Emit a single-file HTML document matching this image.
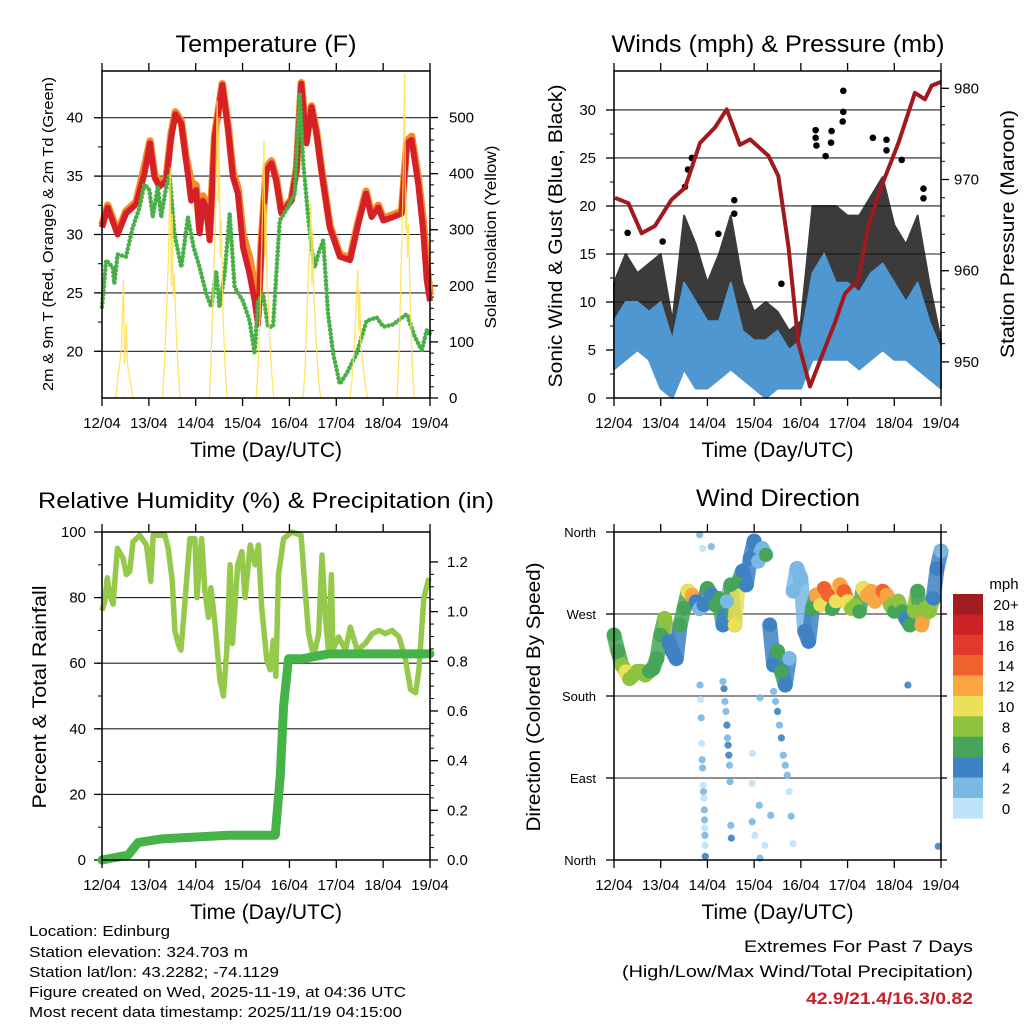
<!DOCTYPE html>
<html><head><meta charset="utf-8"><style>
html,body{margin:0;padding:0;background:#fff;}
svg{display:block;font-family:"Liberation Sans",Arial,sans-serif;}
</style></head><body>
<svg id="c" width="1024" height="1024" viewBox="0 0 1024 1024" xmlns="http://www.w3.org/2000/svg">
<rect width="1024" height="1024" fill="#fff"/>
<g id="g1"></g>
<g id="g2"></g>
<g id="g3"></g>
<g id="g4"></g>
<g font-size="15" fill="#000" lengthAdjust="spacingAndGlyphs">
<text x="29" y="936" textLength="141" lengthAdjust="spacingAndGlyphs">Location: Edinburg</text>
<text x="29" y="957" textLength="219" lengthAdjust="spacingAndGlyphs">Station elevation: 324.703 m</text>
<text x="29" y="977" textLength="250" lengthAdjust="spacingAndGlyphs">Station lat/lon: 43.2282; -74.1129</text>
<text x="29" y="997" textLength="377" lengthAdjust="spacingAndGlyphs">Figure created on Wed, 2025-11-19, at 04:36 UTC</text>
<text x="29" y="1017" textLength="373" lengthAdjust="spacingAndGlyphs">Most recent data timestamp: 2025/11/19 04:15:00</text>
</g>
<g text-anchor="end">
<text x="973" y="952" font-size="17" textLength="229" lengthAdjust="spacingAndGlyphs">Extremes For Past 7 Days</text>
<text x="973" y="977" font-size="17" textLength="351" lengthAdjust="spacingAndGlyphs">(High/Low/Max Wind/Total Precipitation)</text>
<text x="973" y="1004" font-size="17" font-weight="bold" fill="#c8202a" textLength="167" lengthAdjust="spacingAndGlyphs">42.9/21.4/16.3/0.82</text>
</g>
</svg>
<script>
// ---------- DATA ----------
const dayLabels=["12/04","13/04","14/04","15/04","16/04","17/04","18/04","19/04"];
const tempHours=[0,2.9,8,12.3,17.5,21.7,24.6,26.9,29.4,32.9,35.4,37.6,40.6,43.1,45.7,48.2,50,51.7,53.4,55.1,57.7,61.6,64.5,67.1,69.6,72.2,75.6,78.2,79.9,81.6,84.2,86.8,89.3,91.9,97,99.6,102.1,104.7,107.3,109.9,112.4,116.7,121.8,127,131.2,135.2,138.1,141.5,144.1,149.2,153.5,156.1,158.6,162,164.6,166.3,168];
const temp2m=[30.6,32.3,30,31.8,32.6,35.2,37.8,34.9,34.1,34.6,38.3,40.3,39.5,36.3,32.9,33.8,30.1,32.9,32.3,29.5,38.3,42.8,39.2,34.9,33.5,28.9,26.6,24.3,22.3,28.9,35.5,36.1,34.6,31.8,32.9,35.5,42.9,37.8,40.9,38.6,35.5,30.6,28.1,27.8,30.9,33.5,31.5,32.3,31.2,31.5,31.8,37.8,38.1,34.3,30.1,26.1,24.3];
const temp9m=[30.8,32.5,30.2,32,32.8,35.8,38,35.2,34.4,34.8,38.6,40.5,39.7,36.6,34.5,34.2,30.5,33.3,32.8,30,38.5,42.9,39.4,35.3,34,30,28,25.5,23,29.3,35.8,36.3,34.8,32,33,35.7,43,38,41,38.8,35.7,30.8,28.3,28,31.1,33.7,31.7,32.5,31.4,31.7,32,38,38.4,34.8,31,27.5,24.8];
const dewHours=[0,2.1,5.5,6.3,8,12.3,15.7,19.2,21.7,24.3,26,28.6,30.3,32.9,34.6,37.1,40.6,44,46.9,50,53.4,56,58.5,60.2,62.8,65.4,67.9,72.2,75.6,78.2,79.9,82.5,85,87.6,89.3,91,94.4,98.7,101.3,103,105.6,107.3,109,110.7,113.3,115.8,118.4,121.8,125.3,130.4,135.5,140.7,144.1,149.2,156.1,160.3,163.8,166.3,168];
const dewpoint=[23.8,27.8,27.2,25.8,28.3,28.1,30.6,32.3,34.3,33.8,31.5,34.1,31.5,34.1,35.2,30.1,27.2,31.5,28.9,27.2,24.9,23.8,26.9,23.8,26.6,31.8,25.5,24.3,22.6,19.8,24.3,24.9,22.1,22.1,26.6,31.2,32.1,33.5,42.1,36.3,31.5,28.9,27.2,28.3,29.5,23.2,19.8,17.2,18.1,19.8,22.6,22.9,22.1,22.3,23.2,21.2,20.1,21.8,21.5];
const solarHourOfDay=[7,8,9,10,11,11.5,12,12.5,13,14,15,16];
const solarDays=[
 [0,30,60,90,210,60,90,133,60,40,20,0],
 [0,60,150,250,411,200,328,180,222,120,50,0],
 [0,80,200,300,530,350,500,250,317,150,60,0],
 [0,60,150,300,459,250,346,200,180,100,40,0],
 [0,50,150,250,346,200,299,180,150,80,30,0],
 [0,30,80,150,228,120,192,100,80,50,20,0],
 [0,60,200,350,578,300,346,250,311,150,50,0]];
const windHours=[0,6,12,18,24,30,36,42,48,54,60,66,72,78,84,90,96,102,108,114,120,126,132,138,144,150,156,162,168];
const windLo=[3,4,5,4,1,0,3,1,1,2,3,2,1,0,1,1,1,4,4,4,4,3,4,5,4,4,3,2,1];
const windHi=[8,10,10,9,10,6,12,10,8,8,12,7,6,6,7,5,6,13,15,12,12,11,13,14,12,10,12,8,5];
const gustHi=[12,15,13,14,15,8,19,16,12,15,19,12,9,10,9,7,8,20,20,20,19,19,21,23,18,16,19,12,6];
const gustOutHours=[7,25,36.5,40,38,53.6,61.8,61.8,86,103.6,103.6,104,111.8,111.5,108.7,117.8,117.8,117.5,133,140,140,147.8,159,159];
const gustOut=[17.2,16.3,22,25,23.8,17.1,20.6,19.2,11.9,27.9,27.1,26.3,27.8,26.6,25.2,32,29.8,28.8,27.1,26.9,25.8,24.8,21.8,20.8];
const presHours=[0.5,7.4,14.2,21,29.6,36.5,44.2,51.9,57.9,64.7,69.9,79.3,84.4,89.6,94.7,100.7,106.7,113.5,118.7,125.5,130.7,137.5,146.1,154.6,159.8,163.2,168];
const pressure=[968,967.4,964.1,964.9,967.8,969.1,974,975.7,977.7,973.8,974.4,972.6,970.4,962.7,952.1,947.3,950.6,954.3,957.5,959,964.9,969.3,974,979.5,978.8,980.3,980.7];
const rhHours=[0,1.4,2.7,3.9,5.7,7.9,10.8,12.5,14.2,15.9,19.3,22.8,25,26.2,32.2,33.9,36,37.3,39,40.4,41.6,45,47.6,48.6,51,52.7,54.5,55.8,57.9,60.4,62.2,63.9,65.6,66.8,69.5,71.6,73.3,75.9,78.4,80.1,81.8,84.4,86.1,87.8,89,90.4,93,97.3,102,104.1,105.8,108.4,111,112.7,114.4,116.1,117.5,118.2,121.2,124.7,127.2,130.7,134.9,138.4,141.8,145.2,148.6,152.1,155.5,158,160.6,162.3,164.9,167.5];
const rh=[76,79,86,81,78,95,92,87,88,97,99,96,85,99,99,95,85,70,66,64,72,98,98,80,98,82,74,83,72,55,50,64,90,66,90,94,80,96,90,96,77,61,58,67,56,87,98,100,99,82,69,62,69,93,74,63,87,64,68,64,71,64,66,69,70,69,70,68,61,52,51,58,80,86];
const precipHours=[0,13.4,18.5,30.5,64.7,88.7,91.3,93,95.5,102.4,116.1,168];
const precip=[0,0.02,0.07,0.085,0.1,0.1,0.34,0.62,0.81,0.81,0.83,0.83];
const dirHours=[0,2,4,6,8,10,12,14,16,18,20,22,24,26,28,30,32,34,36,38,40,42,44,46,48,50,52,54,56,58,60,62,64,66,68,70,72,74,76,78,80,82,84,86,88,90,92,94,96,98,100,102,104,106,108,110,112,114,116,118,120,122,124,126,128,130,132,134,136,138,140,142,144,146,148,150,152,154,156,158,160,162,164,166,168];
const windDir=[247,229,214,207,199,203,207,207,203,207,210,221,247,265,240,229,221,258,276,295,291,284,276,280,298,291,280,287,258,284,302,258,306,317,302,331,350,328,342,335,258,214,229,207,192,221,295,320,309,251,240,276,291,280,298,291,276,284,302,295,284,276,280,273,298,291,295,284,291,295,291,280,273,284,273,265,258,273,295,258,276,273,287,320,339];
const dirSpeed=[6,7,9,10,9,8,9,8,8,7,7,6,6,8,4,4,4,6,7,10,13,4,2,4,6,4,6,6,4,2,6,10,7,4,4,4,4,2,2,6,4,4,6,6,4,2,2,2,2,4,4,7,12,10,14,15,7,10,12,14,10,8,8,7,10,12,12,12,12,15,12,8,7,8,6,4,6,8,7,12,8,8,4,4,2];
const outHours=[44.2,44.5,44.8,45,45.3,45.5,45.8,46,46.2,46.4,46.5,46.6,46.7,46.8,46.9,44,45.5,50,56,56.5,57,57.5,58,58.3,58.6,59,59.3,59.6,60,60.3,75,71,71,74.6,71,72.4,77.5,75,80.5,82,83,84,85,86,87,88,89,90,91,92,166.6,151];
const outDir=[192,176,156,128,110,101,82,75,68,55,44,35,27,16,4,357,342,344,196,188,174,163,148,134,126,115,104,86,38,24,178,117,84,60,42,27,16,2,49,185,174,163,148,134,115,104,93,75,48,18,15,192];
const outSpeed=[2,0,2,0,2,2,0,2,0,2,2,0,2,0,4,2,0,2,2,4,2,2,4,2,4,4,2,2,2,4,2,0,0,2,2,0,0,2,2,2,2,4,2,4,2,2,2,0,2,0,4,4];
const speedColors=["#bde4f8","#79b7e5","#3e82c3","#47a55a","#8dc33f","#ebe058","#f9a543","#f0622e","#e03a2b","#cb2127","#a01c20"];
const speedLabels=["0","2","4","6","8","10","12","14","16","18","20+"];

// ---------- HELPERS ----------
const NS="http://www.w3.org/2000/svg";
function el(parent,tag,attrs,name){
  const e=document.createElementNS(NS,tag);
  for(const k in attrs) e.setAttribute(k,attrs[k]);
  
  
  parent.appendChild(e);return e;
}
function txt(parent,x,y,s,size,anchor,name,extra){
  const t=el(parent,'text',Object.assign({x:x,y:y,'font-size':size,'text-anchor':anchor||'middle'},extra||{}),name);
  t.textContent=s;return t;
}
function mkScale(a0,a1,p0,p1){return v=>p0+(v-a0)/(a1-a0)*(p1-p0);}
function poly(g,xs,ys,fx,fy,attrs,name){
  let d='';for(let i=0;i<xs.length;i++){d+=(i?'L':'M')+fx(xs[i]).toFixed(1)+','+fy(ys[i]).toFixed(1);}
  return el(g,'path',Object.assign({d:d,fill:'none'},attrs),name);
}
function band(g,xs,lo,hi,fx,fy,fill,name,op){
  let d='';
  for(let i=0;i<xs.length;i++) d+=(i?'L':'M')+fx(xs[i]).toFixed(1)+','+fy(hi[i]).toFixed(1);
  for(let i=xs.length-1;i>=0;i--) d+='L'+fx(xs[i]).toFixed(1)+','+fy(lo[i]).toFixed(1);
  return el(g,'path',{d:d+'Z',fill:fill,stroke:fill,'stroke-width':2,'stroke-linejoin':'round',opacity:op||1},name);
}
function xAxis(g,p,fx){
  for(let i=0;i<dayLabels.length;i++){
    const x=fx(i*24);
    el(g,'line',{x1:x,x2:x,y1:p.y1,y2:p.y1+8,stroke:'#000','stroke-width':1.3},'x-tick');
    el(g,'line',{x1:x,x2:x,y1:p.y0,y2:p.y0-8,stroke:'#000','stroke-width':1.3},'x-tick-top');
    txt(g,x,p.y1+30,dayLabels[i],15,'middle','x-tick-label');
  }
  txt(g,(p.x0+p.x1)/2,p.y1+59,'Time (Day/UTC)',21,'middle','x-axis-title');
}
function yTicks(g,p,fy,lo,hi,step,minor,side,labels,grid,dx){
  const x=side==='l'?p.x0:p.x1, s=side==='l'?-1:1;
  for(let v=lo;v<=hi+1e-9;v+=minor){
    const y=fy(v); if(y<p.y0-0.5||y>p.y1+0.5) continue;
    el(g,'line',{x1:x,x2:x+s*4,y1:y,y2:y,stroke:'#000','stroke-width':1},'y-minor-tick');
  }
  for(let i=0;i<labels.length;i++){
    const v=lo+i*step,y=fy(v);
    if(grid && y>p.y0+1 && y<p.y1-1) el(g,'line',{x1:p.x0,x2:p.x1,y1:y,y2:y,stroke:'#222','stroke-width':1.1},'grid-line');
    el(g,'line',{x1:x,x2:x+s*8,y1:y,y2:y,stroke:'#000','stroke-width':1.3},'y-tick');
    txt(g,x+s*dx,y+5,labels[i],15,side==='l'?'end':'start','y-tick-label');
  }
}
function frame(g,p){el(g,'rect',{x:p.x0,y:p.y0,width:p.x1-p.x0,height:p.y1-p.y0,fill:'none',stroke:'#000','stroke-width':1.5},'plot-frame');}
function vlabel(g,x,y,s,size,len,name){
  const t=el(g,'text',{x:0,y:0,'font-size':size,'text-anchor':'middle',transform:'translate('+x+','+y+') rotate(-90)',textLength:len,lengthAdjust:'spacingAndGlyphs'},name);
  t.textContent=s;
}

// ---------- PANEL 1 ----------
(function(){
  const g=document.getElementById('g1');
  const p={x0:102,x1:430,y0:71,y1:398};
  const fx=mkScale(0,168,p.x0,p.x1), fy=mkScale(16,44,p.y1,p.y0), fs=mkScale(0,583,p.y1,p.y0);
  yTicks(g,p,fy,20,40,5,2.5,'l',['20','25','30','35','40'],true,19);
  yTicks(g,p,fs,0,500,100,20,'r',['0','100','200','300','400','500'],false,19);
  poly(g,tempHours,temp9m,fx,fy,{stroke:'#f58a2a','stroke-width':7.5,'stroke-linejoin':'round'},'temp-9m-line');
  poly(g,tempHours,temp2m,fx,fy,{stroke:'#d52027','stroke-width':6,'stroke-linejoin':'round'},'temp-2m-line');
  poly(g,dewHours,dewpoint,fx,fy,{stroke:'#49b048','stroke-width':4.5,'stroke-dasharray':'0.1 4','stroke-linecap':'round'},'dewpoint-line');
  const sh=[],sv=[];
  for(let d=0;d<solarDays.length;d++)for(let k=0;k<solarHourOfDay.length;k++){sh.push(d*24+solarHourOfDay[k]);sv.push(solarDays[d][k]);}
  poly(g,sh,sv,fx,fs,{stroke:'#ffe04a','stroke-width':1.3,opacity:0.85},'solar-line');
  frame(g,p);xAxis(g,p,fx);
  txt(g,266,52,'Temperature (F)',24,'middle','chart-title',{textLength:181,lengthAdjust:'spacingAndGlyphs'});
  vlabel(g,53,234,'2m & 9m T (Red, Orange) & 2m Td (Green)',15,314,'y-axis-title-left');
  vlabel(g,496,237,'Solar Insolation (Yellow)',16,183,'y-axis-title-right');
})();

// ---------- PANEL 2 ----------
(function(){
  const g=document.getElementById('g2');
  const p={x0:614,x1:941,y0:71,y1:398};
  const fx=mkScale(0,168,p.x0,p.x1), fy=mkScale(0,34.06,p.y1,p.y0), fp=mkScale(946.04,981.9,p.y1,p.y0);
  yTicks(g,p,fy,0,30,5,2.5,'l',['0','5','10','15','20','25','30'],true,18);
  yTicks(g,p,fp,950,980,10,2,'r',['950','960','970','980'],false,13);
  band(g,windHours,windLo,gustHi,fx,fy,'#111','gust-area',0.82);
  for(let i=0;i<gustOutHours.length;i++)
    el(g,'circle',{cx:fx(gustOutHours[i]),cy:fy(gustOut[i]),r:3.3,fill:'#000'},'gust-point');
  band(g,windHours,windLo,windHi,fx,fy,'#4f97d1','wind-speed-area');
  poly(g,presHours,pressure,fx,fp,{stroke:'#a0191d','stroke-width':4,'stroke-linejoin':'round'},'pressure-line');
  frame(g,p);xAxis(g,p,fx);
  txt(g,778,52,'Winds (mph) & Pressure (mb)',24,'middle','chart-title',{textLength:333,lengthAdjust:'spacingAndGlyphs'});
  vlabel(g,562,236,'Sonic Wind & Gust (Blue, Black)',19,303,'y-axis-title-left');
  vlabel(g,1014,234,'Station Pressure (Maroon)',19,248,'y-axis-title-right');
})();

// ---------- PANEL 3 ----------
(function(){
  const g=document.getElementById('g3');
  const p={x0:102,x1:430,y0:532,y1:860};
  const fx=mkScale(0,168,p.x0,p.x1), fy=mkScale(0,100,p.y1,p.y0), fr=mkScale(0,1.3206,p.y1,p.y0);
  yTicks(g,p,fy,0,100,20,10,'l',['0','20','40','60','80','100'],true,16);
  yTicks(g,p,fr,0,1.2,0.2,0.05,'r',['0.0','0.2','0.4','0.6','0.8','1.0','1.2'],false,17);
  poly(g,rhHours,rh,fx,fy,{stroke:'#94c94c','stroke-width':5.5,'stroke-linejoin':'round'},'humidity-line');
  poly(g,precipHours,precip,fx,fr,{stroke:'#45b348','stroke-width':9,'stroke-linejoin':'round','stroke-linecap':'round'},'precip-line');
  frame(g,p);xAxis(g,p,fx);
  txt(g,266,508,'Relative Humidity (%) & Precipitation (in)',22,'middle','chart-title',{textLength:456,lengthAdjust:'spacingAndGlyphs'});
  vlabel(g,46,697,'Percent & Total Rainfall',19,223,'y-axis-title-left');
})();

// ---------- PANEL 4 ----------
(function(){
  const g=document.getElementById('g4');
  const p={x0:614,x1:941,y0:532,y1:860};
  const fx=mkScale(0,168,p.x0,p.x1), fy=mkScale(0,360,p.y1,p.y0);
  const dl=['North','East','South','West','North'];
  for(let i=0;i<5;i++){
    const y=fy(i*90);
    if(i>0&&i<4) el(g,'line',{x1:p.x0,x2:p.x1,y1:y,y2:y,stroke:'#222','stroke-width':1.1},'grid-line');
    el(g,'line',{x1:p.x0,x2:p.x0-8,y1:y,y2:y,stroke:'#000','stroke-width':1.3},'y-tick');
    el(g,'line',{x1:p.x1,x2:p.x1+6,y1:y,y2:y,stroke:'#000','stroke-width':1.3},'y-tick-right');
    txt(g,p.x0-18,y+5,dl[i],13,'end','y-tick-label');
  }
  const col=s=>speedColors[Math.min(10,Math.floor(s/2))];
  for(let i=0;i<outHours.length;i++)
    el(g,'circle',{cx:fx(outHours[i]),cy:fy(outDir[i]),r:3.6,fill:col(outSpeed[i]),opacity:0.9},'direction-outlier');
  for(let i=0;i<dirHours.length-1;i++){
    if(Math.abs(windDir[i+1]-windDir[i])>70) continue;
    el(g,'line',{x1:fx(dirHours[i]),y1:fy(windDir[i]),x2:fx(dirHours[i+1]),y2:fy(windDir[i+1]),stroke:col(dirSpeed[i]),'stroke-width':15,'stroke-linecap':'round',opacity:0.85},'direction-trace');
  }
  for(let i=0;i<dirHours.length;i++)
    el(g,'circle',{cx:fx(dirHours[i]),cy:fy(windDir[i]),r:7,fill:col(dirSpeed[i])},'direction-point');
  frame(g,p);xAxis(g,p,fx);
  txt(g,778,506,'Wind Direction',24,'middle','chart-title',{textLength:164,lengthAdjust:'spacingAndGlyphs'});
  vlabel(g,540,697,'Direction (Colored By Speed)',19,269,'y-axis-title-left');
  const lg=el(g,'g',{},'speed-legend');
  txt(lg,1004,589,'mph',15,'middle','legend-title');
  for(let i=0;i<11;i++){
    const k=10-i, y=594+i*20.4;
    el(lg,'rect',{x:953,y:y,width:30,height:20.6,fill:speedColors[k]},'legend-swatch');
    txt(lg,1006,y+16,speedLabels[k],15,'middle','legend-label');
  }
})();
</script>
</body></html>
